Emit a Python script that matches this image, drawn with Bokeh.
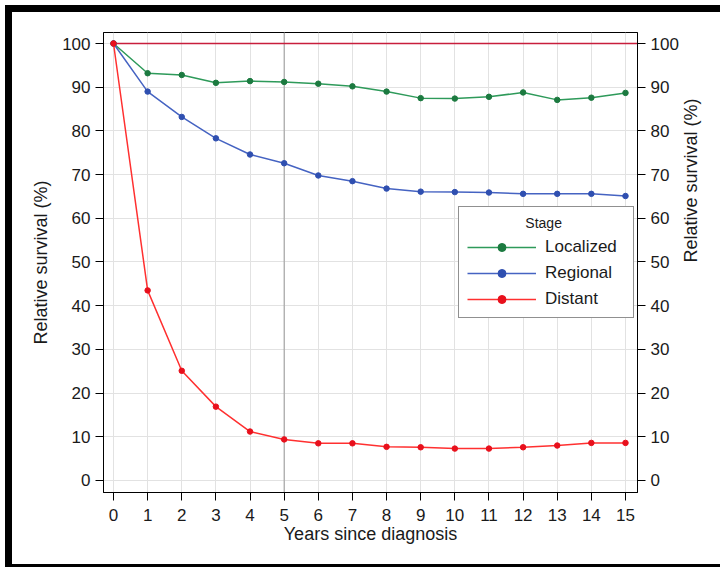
import math
from bokeh.plotting import figure
from bokeh.models import (LinearAxis, SingleIntervalTicker, Range1d, Legend, LegendItem,
                          ColumnDataSource)
from bokeh.embed import file_html
from bokeh.resources import INLINE

# ---- data ----
years = list(range(0, 16))
localized = [100, 93.2, 92.8, 91.0, 91.4, 91.2, 90.8, 90.2, 89.0, 87.5, 87.4, 87.8, 88.8, 87.1, 87.6, 88.7]
regional = [100, 89.0, 83.2, 78.3, 74.6, 72.6, 69.8, 68.5, 66.8, 66.1, 66.0, 65.9, 65.6, 65.6, 65.6, 65.1]
distant = [100, 43.5, 25.1, 16.9, 11.2, 9.4, 8.5, 8.5, 7.7, 7.6, 7.3, 7.3, 7.6, 8.0, 8.6, 8.6]
stages = ["Localized", "Regional", "Distant"]
legend_title = "Stage"
reference_level = 100
highlight_year = 5

x_start, x_end = -0.293, 15.352
y_start, y_end = -2.75, 102.52

FONT = "Liberation Sans"
TXT = "#1a1a1a"

p = figure(width=715, height=562, output_backend="svg", toolbar_location=None,
           x_range=Range1d(x_start, x_end), y_range=Range1d(y_start, y_end),
           min_border_left=91, min_border_right=90, min_border_top=20, min_border_bottom=82,
           background_fill_color="white", border_fill_color="white")
p.styles = {"border-left": "7px solid black", "border-top": "7px solid black",
            "border-bottom": "3px solid black", "margin-left": "5px", "margin-top": "5px"}
p.outline_line_color = "black"
p.outline_line_width = 1

# axes
p.xaxis.ticker = SingleIntervalTicker(interval=1)
p.yaxis.ticker = SingleIntervalTicker(interval=10)
p.xaxis.axis_label = "Years since diagnosis"
p.yaxis.axis_label = "Relative survival (%)"

right = LinearAxis(ticker=SingleIntervalTicker(interval=10), axis_label="Relative survival (%)",
                   axis_label_orientation=math.pi / 2)
p.add_layout(right, "right")

for ax in [p.xaxis[0], p.yaxis[0], right]:
    ax.major_tick_in = 0
    ax.major_tick_out = 8
    ax.minor_tick_in = 0
    ax.minor_tick_out = 0
    ax.axis_line_color = "black"
    ax.major_tick_line_color = "black"
    ax.major_label_text_font = FONT
    ax.major_label_text_font_size = "17px"
    ax.major_label_text_color = TXT
    ax.major_label_standoff = 5
    ax.axis_label_text_font = FONT
    ax.axis_label_text_font_size = "18px"
    ax.axis_label_text_font_style = "normal"
    ax.axis_label_text_color = TXT
    ax.axis_label_standoff = 8
p.xaxis[0].axis_label_standoff = 0
p.xaxis[0].major_label_standoff = 8
right.axis_label_standoff = 9

# grid
p.xgrid.ticker = SingleIntervalTicker(interval=1)
p.ygrid.ticker = SingleIntervalTicker(interval=10)
for g in [p.xgrid[0], p.ygrid[0]]:
    g.grid_line_color = "#e2e2e2"
    g.grid_line_width = 1

# highlighted vertical line at year 5
p.line([highlight_year, highlight_year], [y_start, y_end], line_color="#9a9a9a", line_width=1)
# reference line at 100 %
p.line([0, x_end], [reference_level, reference_level], line_color="#c81e3c", line_width=1.5)

colors = {"Localized": ("#2e9a5a", "#1c7a40"),
          "Regional": ("#4563c2", "#2f4fb0"),
          "Distant": ("#ff3030", "#e8101c")}
series = {"Localized": localized, "Regional": regional, "Distant": distant}

items = []
for name in stages:
    src = ColumnDataSource(dict(x=years, y=series[name]))
    lc, mc = colors[name]
    r1 = p.line("x", "y", source=src, line_color=lc, line_width=1.5)
    r2 = p.scatter("x", "y", source=src, marker="circle", size=5.5, fill_color=mc, line_color=mc)
    items.append(LegendItem(label=name, renderers=[r1, r2]))

# the legend title is centred over the items (non-breaking spaces as indent)
legend = Legend(items=items, title="\u00a0" * 15 + legend_title, location=(355, 174),
                title_text_font=FONT, title_text_font_size="14px", title_text_font_style="normal",
                title_text_color=TXT, title_standoff=6,
                label_text_font=FONT, label_text_font_size="17px", label_text_color=TXT,
                glyph_width=69, glyph_height=20, label_height=20, label_width=80,
                label_standoff=9, spacing=6, padding=8, margin=0,
                border_line_color="#222222", border_line_width=1,
                background_fill_color="white", background_fill_alpha=1.0)
p.add_layout(legend, "center")

open("out.html", "w").write(file_html(p, INLINE))
